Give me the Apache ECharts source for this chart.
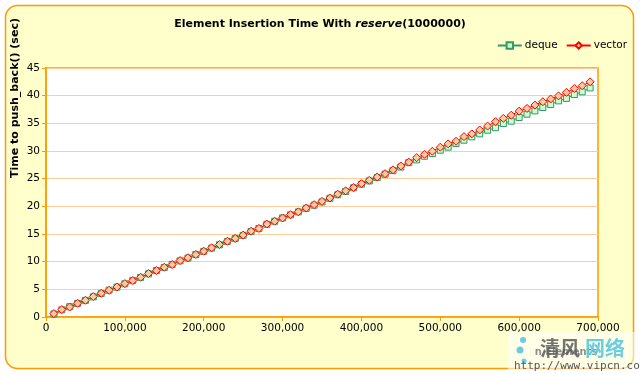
<!DOCTYPE html>
<html>
<head>
<meta charset="utf-8">
<script src="https://cdn.jsdelivr.net/npm/echarts@6/dist/echarts.min.js"></script>
<style>
html,body{margin:0;padding:0;background:#fff;}
#chart{width:640px;height:374px;}
</style>
</head>
<body>
<div id="chart"></div>
<script>
var nElements = [10000,20000,30000,40000,50000,60000,70000,80000,90000,100000,
110000,120000,130000,140000,150000,160000,170000,180000,190000,200000,
210000,220000,230000,240000,250000,260000,270000,280000,290000,300000,
310000,320000,330000,340000,350000,360000,370000,380000,390000,400000,
410000,420000,430000,440000,450000,460000,470000,480000,490000,500000,
510000,520000,530000,540000,550000,560000,570000,580000,590000,600000,
610000,620000,630000,640000,650000,660000,670000,680000,690000];

var dequeTimes = [0.55,1.3,1.85,2.45,3.0,3.65,4.25,4.85,5.4,6.0,
6.6,7.15,7.8,8.4,8.95,9.5,10.15,10.65,11.3,11.85,
12.45,13.05,13.65,14.2,14.75,15.45,16.0,16.75,17.3,17.9,
18.45,19.0,19.65,20.2,20.8,21.45,22.1,22.7,23.35,24.0,
24.6,25.2,25.8,26.45,27.1,27.9,28.4,29.05,29.55,30.14,
30.69,31.35,31.95,32.55,33.1,33.76,34.2,34.97,35.39,36.05,
36.65,37.25,37.86,38.4,39.06,39.5,40.2,40.7,41.4];

var vectorTimes = [0.61,1.34,1.81,2.48,3.02,3.69,4.29,4.83,5.43,6.04,
6.58,7.18,7.85,8.39,8.99,9.48,10.2,10.7,11.3,11.9,
12.5,13.1,13.7,14.2,14.8,15.5,16.0,16.8,17.3,17.9,
18.5,19.0,19.7,20.3,20.9,21.5,22.2,22.8,23.4,24.1,
24.7,25.3,25.9,26.6,27.3,28.0,28.8,29.4,29.96,30.69,
31.29,31.77,32.6,33.1,33.8,34.5,35.3,35.9,36.47,37.2,
37.7,38.3,38.9,39.4,39.96,40.6,41.3,41.8,42.5];

var seriesNames = ['deque', 'vector'];
var yTicks = [0,5,10,15,20,25,30,35,40,45];
var xTicks = [0,100000,200000,300000,400000,500000,600000,700000];

function pairs(xs, ys){ return xs.map(function(x,i){ return [x, ys[i]]; }); }

var FONT = 'DejaVu Sans';
var chart = echarts.init(document.getElementById('chart'), null, {renderer:'canvas'});
chart.setOption({
  animation: false,
  backgroundColor: '#ffffff',
  textStyle: {fontFamily: FONT},
  title: {
    text: '{b|Element Insertion Time With }{i|reserve}{b|(1000000)}',
    left: 'center', top: 14,
    textStyle: {
      rich: {
        b: {fontFamily: FONT, fontWeight: 'bold', fontSize: 11, color: '#000'},
        i: {fontFamily: FONT, fontWeight: 'bold', fontStyle: 'italic', fontSize: 11, color: '#000'}
      }
    }
  },
  legend: {
    data: seriesNames,
    right: 8, top: 35,
    itemWidth: 24, itemHeight: 8, itemGap: 8,
    textStyle: {fontFamily: FONT, fontSize: 10.5, color: '#000', padding: [0,0,0,-2]}
  },
  grid: {
    left: 46, right: 42, top: 68, bottom: 57,
    show: true, backgroundColor: '#ffffff', borderColor: '#FF9900', borderWidth: 1.5
  },
  xAxis: {
    type: 'value', min: xTicks[0], max: xTicks[xTicks.length-1], interval: 100000,
    axisLine: {show: true, lineStyle: {color: '#FF9900', width: 1.5}},
    axisTick: {show: true, length: 4, lineStyle: {color: '#FF9900'}},
    splitLine: {show: false},
    axisLabel: {
      color: '#000', fontFamily: FONT, fontSize: 10.5, margin: 6,
      formatter: function(v){ return v.toLocaleString('en-US'); }
    }
  },
  yAxis: {
    type: 'value', min: yTicks[0], max: yTicks[yTicks.length-1], interval: 5,
    axisLine: {show: true, lineStyle: {color: '#FF9900', width: 1.5}},
    axisTick: {show: true, length: 4, lineStyle: {color: '#FF9900'}},
    splitLine: {show: true, lineStyle: {color: '#FFCC99', width: 1}},
    axisLabel: {color: '#000', fontFamily: FONT, fontSize: 10.5, margin: 6}
  },
  graphic: [
    {type: 'rect', z: -10, shape: {x: 5.5, y: 5.5, width: 628, height: 363, r: 12},
     style: {fill: '#FFFFCC', stroke: '#FF9900', lineWidth: 1.5}},
    {type: 'text', z: 10, x: 15, y: 98, rotation: Math.PI/2,
     style: {text: 'Time to push_back() (sec)', font: 'bold 11px "DejaVu Sans"', fill: '#000',
             textAlign: 'center', textVerticalAlign: 'middle'}},
    {type: 'text', z: 10, x: 566, y: 352,
     style: {text: 'n Elements', font: 'bold 10px "DejaVu Sans"', fill: '#000',
             textAlign: 'center', textVerticalAlign: 'middle'}},
    {type: 'rect', z: 20, shape: {x: 508, y: 332, width: 132, height: 42},
     style: {fill: 'rgba(255,255,255,0.55)'}},
    {type: 'circle', z: 21, shape: {cx: 523, cy: 340, r: 3}, style: {fill: '#6CCBE0'}},
    {type: 'circle', z: 21, shape: {cx: 520, cy: 350, r: 3.5}, style: {fill: '#6CCBE0'}},
    {type: 'circle', z: 21, shape: {cx: 524, cy: 361, r: 2.5}, style: {fill: '#6CCBE0'}},
    {type: 'text', z: 21, x: 540, y: 348,
     style: {text: '清风', font: 'bold 20px "Noto Sans CJK SC"', fill: 'rgba(90,90,90,0.85)',
             textAlign: 'left', textVerticalAlign: 'middle'}},
    {type: 'text', z: 21, x: 585, y: 348,
     style: {text: '网络', font: 'bold 20px "Noto Sans CJK SC"', fill: 'rgba(90,200,225,0.9)',
             textAlign: 'left', textVerticalAlign: 'middle'}},
    {type: 'text', z: 21, x: 514, y: 366,
     style: {text: 'http://www.vipcn.com', font: '11px "DejaVu Sans Mono"', fill: '#555',
             textAlign: 'left', textVerticalAlign: 'middle'}}
  ],
  series: [
    {
      name: seriesNames[0], type: 'line', data: pairs(nElements, dequeTimes),
      symbol: 'rect', symbolSize: 6, showAllSymbol: true,
      lineStyle: {color: '#339966', width: 1},
      itemStyle: {color: '#CCFFCC', borderColor: '#339966', borderWidth: 1}
    },
    {
      name: seriesNames[1], type: 'line', data: pairs(nElements, vectorTimes),
      symbol: 'diamond', symbolSize: 8, showAllSymbol: true,
      lineStyle: {color: '#FF0000', width: 1},
      itemStyle: {color: '#FFCC99', borderColor: '#FF0000', borderWidth: 1}
    }
  ]
});
</script>
</body>
</html>
